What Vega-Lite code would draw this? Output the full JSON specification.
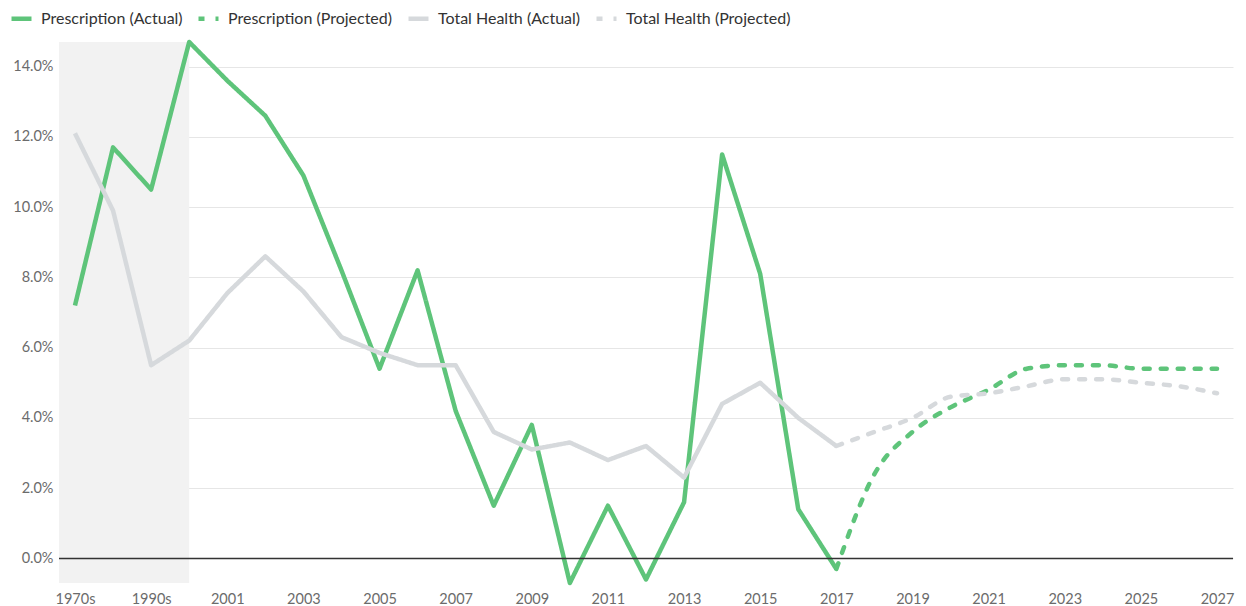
{
  "$schema": "https://vega.github.io/schema/vega-lite/v6.json",
  "width": 1174,
  "height": 541,
  "autosize": {"type": "none"},
  "padding": {"left": 59, "top": 42, "right": 13, "bottom": 23},
  "background": "white",
  "config": {
    "font": "Lato",
    "view": {"stroke": null},
    "axis": {"labelFont": "Lato", "labelFontSize": 14.5, "labelColor": "#6b6b6b", "ticks": false, "domain": false, "title": null}
  },
  "datasets": {
    "series": [
      {"year": "1970s", "series": "Prescription (Actual)", "value": 0.072},
      {"year": "1980s", "series": "Prescription (Actual)", "value": 0.117},
      {"year": "1990s", "series": "Prescription (Actual)", "value": 0.105},
      {"year": "2000", "series": "Prescription (Actual)", "value": 0.147},
      {"year": "2001", "series": "Prescription (Actual)", "value": 0.136},
      {"year": "2002", "series": "Prescription (Actual)", "value": 0.126},
      {"year": "2003", "series": "Prescription (Actual)", "value": 0.109},
      {"year": "2004", "series": "Prescription (Actual)", "value": 0.082},
      {"year": "2005", "series": "Prescription (Actual)", "value": 0.054},
      {"year": "2006", "series": "Prescription (Actual)", "value": 0.082},
      {"year": "2007", "series": "Prescription (Actual)", "value": 0.042},
      {"year": "2008", "series": "Prescription (Actual)", "value": 0.015},
      {"year": "2009", "series": "Prescription (Actual)", "value": 0.038},
      {"year": "2010", "series": "Prescription (Actual)", "value": -0.007},
      {"year": "2011", "series": "Prescription (Actual)", "value": 0.015},
      {"year": "2012", "series": "Prescription (Actual)", "value": -0.006},
      {"year": "2013", "series": "Prescription (Actual)", "value": 0.016},
      {"year": "2014", "series": "Prescription (Actual)", "value": 0.115},
      {"year": "2015", "series": "Prescription (Actual)", "value": 0.081},
      {"year": "2016", "series": "Prescription (Actual)", "value": 0.014},
      {"year": "2017", "series": "Prescription (Actual)", "value": -0.003},
      {"year": "2017", "series": "Prescription (Projected)", "value": -0.003},
      {"year": "2018", "series": "Prescription (Projected)", "value": 0.024},
      {"year": "2019", "series": "Prescription (Projected)", "value": 0.036},
      {"year": "2020", "series": "Prescription (Projected)", "value": 0.043},
      {"year": "2021", "series": "Prescription (Projected)", "value": 0.048},
      {"year": "2022", "series": "Prescription (Projected)", "value": 0.054},
      {"year": "2023", "series": "Prescription (Projected)", "value": 0.055},
      {"year": "2024", "series": "Prescription (Projected)", "value": 0.055},
      {"year": "2025", "series": "Prescription (Projected)", "value": 0.054},
      {"year": "2026", "series": "Prescription (Projected)", "value": 0.054},
      {"year": "2027", "series": "Prescription (Projected)", "value": 0.054},
      {"year": "1970s", "series": "Total Health (Actual)", "value": 0.121},
      {"year": "1980s", "series": "Total Health (Actual)", "value": 0.099},
      {"year": "1990s", "series": "Total Health (Actual)", "value": 0.055},
      {"year": "2000", "series": "Total Health (Actual)", "value": 0.062},
      {"year": "2001", "series": "Total Health (Actual)", "value": 0.0755},
      {"year": "2002", "series": "Total Health (Actual)", "value": 0.086},
      {"year": "2003", "series": "Total Health (Actual)", "value": 0.076},
      {"year": "2004", "series": "Total Health (Actual)", "value": 0.063},
      {"year": "2005", "series": "Total Health (Actual)", "value": 0.0585},
      {"year": "2006", "series": "Total Health (Actual)", "value": 0.055},
      {"year": "2007", "series": "Total Health (Actual)", "value": 0.055},
      {"year": "2008", "series": "Total Health (Actual)", "value": 0.036},
      {"year": "2009", "series": "Total Health (Actual)", "value": 0.031},
      {"year": "2010", "series": "Total Health (Actual)", "value": 0.033},
      {"year": "2011", "series": "Total Health (Actual)", "value": 0.028},
      {"year": "2012", "series": "Total Health (Actual)", "value": 0.032},
      {"year": "2013", "series": "Total Health (Actual)", "value": 0.023},
      {"year": "2014", "series": "Total Health (Actual)", "value": 0.044},
      {"year": "2015", "series": "Total Health (Actual)", "value": 0.050},
      {"year": "2016", "series": "Total Health (Actual)", "value": 0.040},
      {"year": "2017", "series": "Total Health (Actual)", "value": 0.032},
      {"year": "2017", "series": "Total Health (Projected)", "value": 0.032},
      {"year": "2018", "series": "Total Health (Projected)", "value": 0.036},
      {"year": "2019", "series": "Total Health (Projected)", "value": 0.040},
      {"year": "2020", "series": "Total Health (Projected)", "value": 0.046},
      {"year": "2021", "series": "Total Health (Projected)", "value": 0.047},
      {"year": "2022", "series": "Total Health (Projected)", "value": 0.049},
      {"year": "2023", "series": "Total Health (Projected)", "value": 0.051},
      {"year": "2024", "series": "Total Health (Projected)", "value": 0.051},
      {"year": "2025", "series": "Total Health (Projected)", "value": 0.050},
      {"year": "2026", "series": "Total Health (Projected)", "value": 0.049},
      {"year": "2027", "series": "Total Health (Projected)", "value": 0.047}
    ]
  },
  "data": {"name": "series"},
  "layer": [
    {
      "mark": {"type": "rect", "color": "#f2f2f2", "xOffset": -16},
      "data": {"values": [{"start": "1970s", "end": "2000"}]},
      "encoding": {
        "x": {
          "field": "start", "type": "ordinal",
          "scale": {"type": "point", "padding": 0.42, "domain": ["1970s","1980s","1990s","2000","2001","2002","2003","2004","2005","2006","2007","2008","2009","2010","2011","2012","2013","2014","2015","2016","2017","2018","2019","2020","2021","2022","2023","2024","2025","2026","2027"]},
          "axis": {"values": ["1970s","1990s","2001","2003","2005","2007","2009","2011","2013","2015","2017","2019","2021","2023","2025","2027"], "labelAngle": 0, "labelPadding": 9, "grid": false}
        },
        "x2": {"field": "end"}
      }
    },
    {
      "mark": {"type": "line", "strokeWidth": 4.5, "strokeJoin": "round"},
      "transform": [{"filter": "indexof(datum.series, 'Actual') >= 0"}],
      "encoding": {
        "x": {"field": "year", "type": "ordinal"},
        "y": {
          "field": "value", "type": "quantitative",
          "scale": {"domain": [-0.007, 0.147], "nice": false, "zero": false},
          "axis": {"values": [0, 0.02, 0.04, 0.06, 0.08, 0.1, 0.12, 0.14], "format": ".1%", "labelPadding": 6, "grid": true, "gridColor": "#e6e6e6", "gridWidth": 1}
        },
        "color": {
          "field": "series", "type": "nominal",
          "scale": {"domain": ["Prescription (Actual)", "Prescription (Projected)", "Total Health (Actual)", "Total Health (Projected)"], "range": ["#5ec47a", "#5ec47a", "#d6d9dc", "#d6d9dc"]},
          "legend": {
            "title": null, "orient": "none", "direction": "horizontal", "legendX": -50, "legendY": -36,
            "symbolType": "stroke", "symbolSize": 400, "symbolStrokeWidth": 4.5, "labelLimit": 400,
            "labelFont": "Lato", "labelFontSize": 16, "labelColor": "#333333", "columnPadding": 6, "labelOffset": 7
          }
        },
        "strokeDash": {
          "field": "series", "type": "nominal",
          "scale": {"domain": ["Prescription (Actual)", "Prescription (Projected)", "Total Health (Actual)", "Total Health (Projected)"], "range": [[1, 0], [6, 11], [1, 0], [6, 11]]},
          "legend": {
            "title": null, "orient": "none", "direction": "horizontal", "legendX": -50, "legendY": -36,
            "symbolType": "stroke", "symbolSize": 400, "symbolStrokeWidth": 4.5, "labelLimit": 400,
            "labelFont": "Lato", "labelFontSize": 16, "labelColor": "#333333", "columnPadding": 6, "labelOffset": 7
          }
        },
        "detail": {"field": "series"}
      }
    },
    {
      "mark": {"type": "line", "strokeWidth": 4.5, "interpolate": "monotone", "strokeCap": "round"},
      "transform": [{"filter": "indexof(datum.series, 'Projected') >= 0"}],
      "encoding": {
        "x": {"field": "year", "type": "ordinal"},
        "y": {"field": "value", "type": "quantitative"},
        "color": {"field": "series", "type": "nominal"},
        "strokeDash": {"field": "series", "type": "nominal"}
      }
    },
    {
      "mark": {"type": "rule", "color": "#333333", "strokeWidth": 1.5},
      "data": {"values": [{"v": 0}]},
      "encoding": {"y": {"field": "v", "type": "quantitative"}}
    }
  ]
}
